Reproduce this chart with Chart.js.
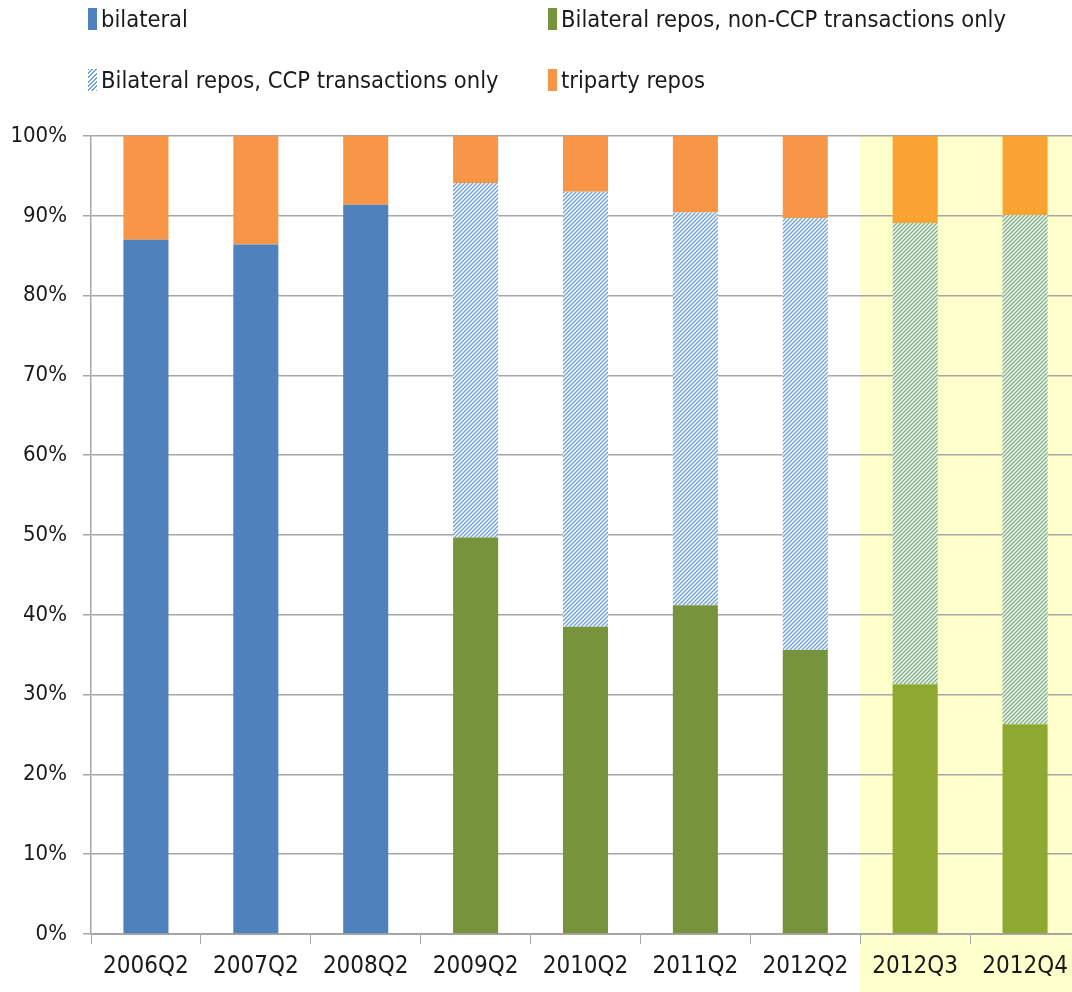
<!DOCTYPE html>
<html lang="en">
<head>
<meta charset="UTF-8">
<script src="https://cdn.jsdelivr.net/npm/chart.js"></script>
<title>Repo market shares</title>
<style>
  html, body { margin: 0; padding: 0; background: #fff; overflow: hidden; }
  #wrap { position: relative; width: 1072px; height: 992px; overflow: hidden; }
  #myChart { position: absolute; left: 0; top: 0; }
  .legend { position: absolute; font-family: 'Liberation Sans Narrow', 'DejaVu Sans Condensed', sans-serif;
            font-size: 23.5px; color: #1a1a1a; white-space: nowrap; line-height: 28px; }
  .legend i { display: inline-block; width: 9px; height: 22px; vertical-align: -3px; margin-right: 4px; }
</style>
</head>
<body>
<div id="wrap">
  <canvas id="myChart" width="1082" height="992"></canvas>
  <div id="legend"></div>
</div>
<script>
// categories and shares (%)
const categories = ['2006Q2', '2007Q2', '2008Q2', '2009Q2', '2010Q2', '2011Q2', '2012Q2', '2012Q3', '2012Q4'];
const seriesNames = ['bilateral', 'Bilateral repos, non-CCP transactions only', 'Bilateral repos, CCP transactions only', 'triparty repos'];
const bilateral = [87.0, 86.4, 91.4, null, null, null, null, null, null];
const nonCCP    = [null, null, null, 49.7, 38.5, 41.2, 35.6, 31.3, 26.3];
const ccp       = [null, null, null, 44.4, 54.5, 49.2, 54.1, 57.8, 63.8];
const triparty  = [13.0, 13.6, 8.6, 5.9, 7.0, 9.6, 10.3, 10.9, 9.9];
const yTicks = [0, 10, 20, 30, 40, 50, 60, 70, 80, 90, 100];
const highlightFrom = 7; // 2012Q3 onwards shaded

const fontFam = "'Liberation Sans Narrow', 'DejaVu Sans Condensed', sans-serif";
const gridCol = '#A6A6A6';

function hatch(line, bg) {
    const c = document.createElement('canvas');
    c.width = 4; c.height = 4;
    const g = c.getContext('2d');
    g.fillStyle = bg; g.fillRect(0, 0, 4, 4);
    g.strokeStyle = line; g.lineWidth = 1.4;
    g.beginPath();
    g.moveTo(0, 4); g.lineTo(4, 0);
    g.moveTo(-1, 1); g.lineTo(1, -1);
    g.moveTo(3, 5); g.lineTo(5, 3);
    g.stroke();
    return g.createPattern(c, 'repeat');
}
const hatchBlue = hatch('#6FA2DC', '#ffffff');
const hatchGreen = hatch('#7DB09C', '#FAFCE0');

function perBar(normal, shaded) {
    return categories.map((c, i) => i >= highlightFrom ? shaded : normal);
}

const colors = [
    perBar('#4F81BD', '#4F81BD'),
    perBar('#77933C', '#8FA832'),
    perBar(hatchBlue, hatchGreen),
    perBar('#F79646', '#F9A432')
];
const legendColors = ['#4F81BD', '#77933C', null, '#F79646'];

// legend (two columns)
const legPos = [[88, 5], [548, 5], [88, 66], [548, 66]];
const legendDiv = document.getElementById('legend');
seriesNames.forEach((name, i) => {
    const d = document.createElement('div');
    d.className = 'legend';
    d.style.left = legPos[i][0] + 'px';
    d.style.top = legPos[i][1] + 'px';
    const sw = document.createElement('i');
    if (legendColors[i]) sw.style.background = legendColors[i];
    else sw.style.background = 'repeating-linear-gradient(-45deg, #6FA2DC 0 1.4px, #fff 1.4px 3px)';
    d.appendChild(sw);
    d.appendChild(document.createTextNode(name));
    legendDiv.appendChild(d);
});

const highlight = {
    id: 'highlight',
    beforeDraw(chart) {
        const { ctx, chartArea, scales: { x } } = chart;
        const left = (x.getPixelForValue(highlightFrom - 1) + x.getPixelForValue(highlightFrom)) / 2;
        ctx.save();
        ctx.fillStyle = '#FFFFCC';
        ctx.fillRect(left, chartArea.top, chart.width - left, chart.height - chartArea.top);
        ctx.restore();
    }
};

const dataSets = [bilateral, nonCCP, ccp, triparty].map((arr, i) => ({
    label: seriesNames[i],
    data: arr,
    backgroundColor: colors[i],
    borderWidth: 0,
    barPercentage: 0.41,
    categoryPercentage: 1
}));

new Chart(document.getElementById('myChart'), {
    type: 'bar',
    data: { labels: categories, datasets: dataSets },
    plugins: [highlight],
    options: {
        responsive: false,
        animation: false,
        layout: { padding: { top: 136, right: 2, left: 0, bottom: 0 } },
        plugins: { legend: { display: false }, tooltip: { enabled: false } },
        scales: {
            x: {
                stacked: true,
                offset: true,
                grid: { offset: true, drawOnChartArea: false, drawTicks: true, tickLength: 10, color: gridCol },
                border: { display: true, color: gridCol },
                ticks: { color: '#1a1a1a', font: { family: fontFam, size: 24 }, padding: 8, maxRotation: 0, autoSkip: false },
                afterFit: s => { s.height = 58; }
            },
            y: {
                stacked: true,
                min: 0,
                max: 100,
                afterBuildTicks: s => { s.ticks = yTicks.map(v => ({ value: v })); },
                ticks: { color: '#1a1a1a', font: { family: fontFam, size: 22 }, padding: 16,
                         callback: v => v + '%' },
                grid: { color: gridCol, tickLength: 8, lineWidth: 1.5 },
                border: { display: true, color: gridCol, width: 1.5 },
                afterFit: s => { s.width = 91; }
            }
        }
    }
});
</script>
</body>
</html>
